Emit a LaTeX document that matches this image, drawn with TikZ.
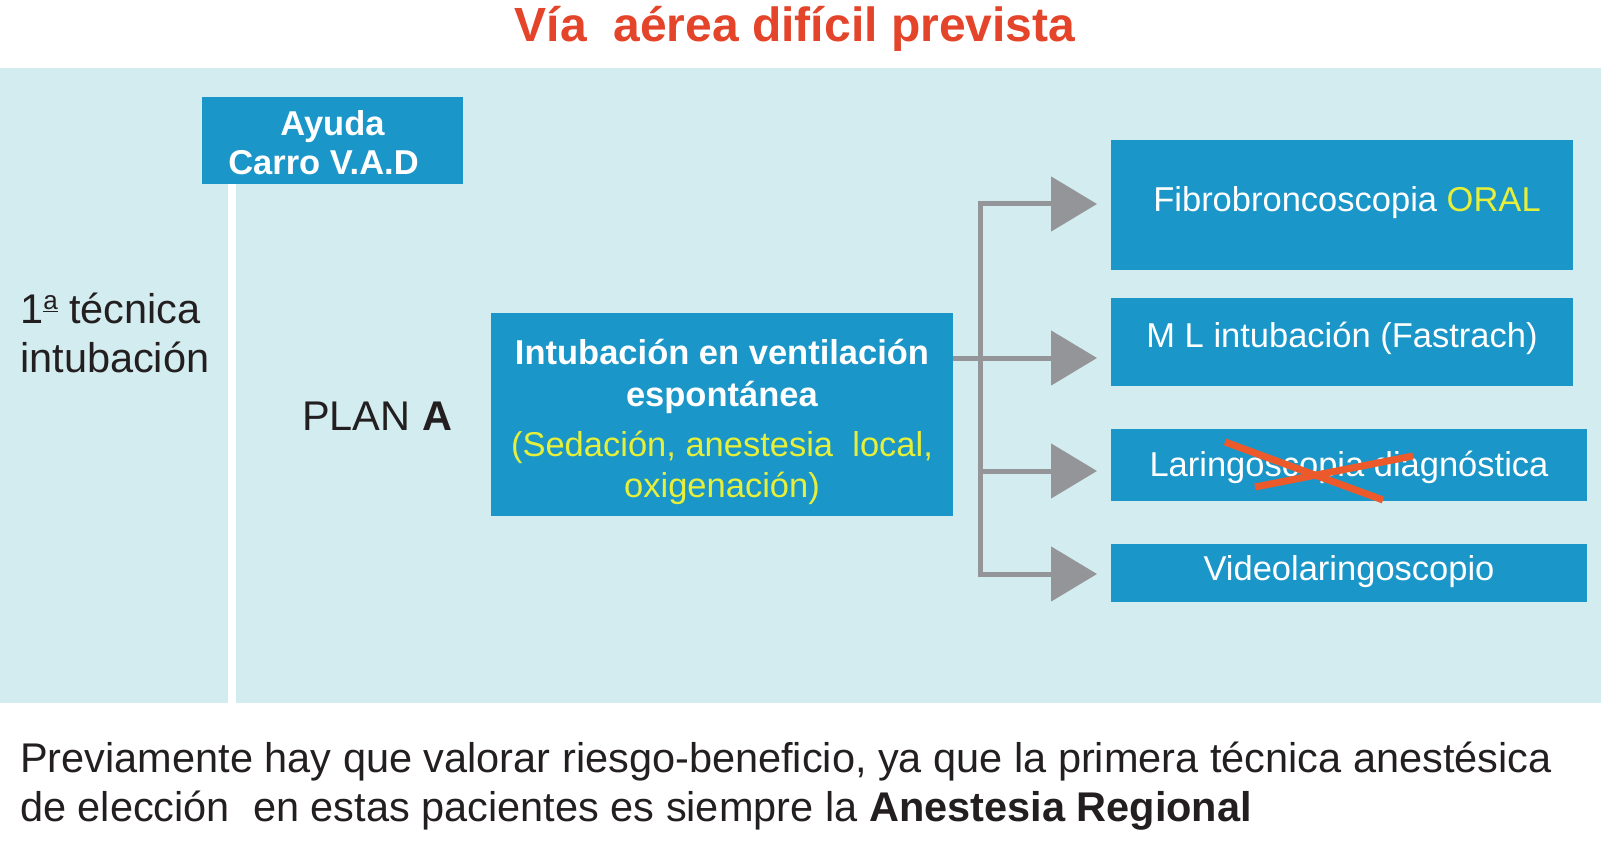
\documentclass[tikz,border=0pt]{standalone}
\usepackage{fontspec}
\setmainfont{Liberation Sans}
\usetikzlibrary{arrows.meta}
\definecolor{panel}{HTML}{D3ECEF}
\definecolor{boxblue}{HTML}{1A96C8}
\definecolor{arrgray}{HTML}{939598}
\definecolor{titlered}{HTML}{E4442A}
\definecolor{hiyellow}{HTML}{E6EF3A}
\definecolor{crossred}{HTML}{EC5A2C}
\definecolor{ink}{HTML}{231F20}
\newcommand\myfs[2]{\fontsize{#1}{#2}\selectfont}
\newcommand\myord{\raisebox{14pt}{\myfs{26}{26}\underline{a}}}
\tikzset{
  bluebox/.style={fill=boxblue, text=white, inner sep=0pt, align=center},
  plaintext/.style={inner sep=0pt, text=ink, font=\myfs{41.5}{49}},
  gline/.style={draw=arrgray, line width=5pt},
  conn/.style={gline, -{Triangle[length=46pt,width=54pt]}},
  crossline/.style={draw=crossred, line width=7pt}
}
\begin{document}
\begin{tikzpicture}[x=1pt,y=-1pt]
\useasboundingbox (0,0) rectangle (1601,842);
\fill[white] (0,0) rectangle (1601,842);
\fill[panel] (0,68) rectangle (1601,703);

% title
\node[font=\myfs{48}{50}\bfseries, text=titlered, anchor=base, inner sep=0pt] (title) at (795,42) {Vía\ \ aérea difícil prevista};

% help box and white rule
\node[bluebox, minimum width=261, minimum height=87, font=\myfs{34.5}{39}\bfseries] (ayuda) at (332.5,140.5)
  {\rule{0pt}{38pt}Ayuda\\Carro V.A.D\hspace*{18pt}\rule[-8pt]{0pt}{8pt}};
\coordinate (wl) at (232,703);
\draw[white, line width=8pt] (ayuda.south -| wl) -- (wl);

% left texts
\node[plaintext, anchor=north west, align=left] (tec) at (20,293) {\rule{0pt}{30pt}1\myord\ técnica\\intubación};
\node[plaintext, anchor=base west] (plan) at (302,430) {PLAN \textbf{A}};

% main box
\node[bluebox, minimum width=462, minimum height=203, font=\myfs{34.5}{40}] (main) at (722,414.5)
  {\rule{0pt}{43pt}\textbf{Intubación en ventilación}\\[2pt]\textbf{espontánea}\\[10pt]\textcolor{hiyellow}{(Sedación, anestesia\ \ local,}\\[1pt]\textcolor{hiyellow}{oxigenación)}\rule[-10pt]{0pt}{10pt}};

% right boxes
\node[bluebox, minimum width=462, minimum height=130, font=\myfs{34.5}{40}, text height=21pt, text depth=7pt] (r1) at (1342,205)
  {\hspace*{10pt}Fibrobroncoscopia \textcolor{hiyellow}{ORAL}};
\node[bluebox, minimum width=462, minimum height=88, font=\myfs{34.5}{40}, text height=19pt, text depth=7pt] (r2) at (1342,342)
  {M L intubación (Fastrach)};
\node[bluebox, minimum width=476, minimum height=72, font=\myfs{34.5}{40}, text height=29pt, text depth=7pt] (r3) at (1349,465)
  {Laringoscopia diagnóstica};
\node[bluebox, minimum width=476, minimum height=58, font=\myfs{34.5}{40}, text height=21pt, text depth=7pt] (r4) at (1349,573)
  {Videolaringoscopio};

% connectors
\foreach \i/\yy in {1/204,2/358,3/471,4/574} {
  \coordinate (j\i) at (980,\yy);
  \coordinate (tip\i) at (1097,\yy);
}
\draw[gline, line cap=rect] (j1) -- (j4);
\draw[conn] (j1) -- (tip1);
\draw[conn] (main.east |- tip2) -- (tip2);
\draw[conn] (j3) -- (tip3);
\draw[conn] (j4) -- (tip4);

% cross over third option
\draw[crossline] (1225,442) -- (1383,500);
\draw[crossline] (1255,487) -- (1413,456);

% bottom note
\node[plaintext, anchor=north west, align=left] (note) at (20,742)
  {\rule{0pt}{30pt}Previamente hay que valorar riesgo-beneficio, ya que la primera técnica anestésica\\de elección\ \ en estas pacientes es siempre la \textbf{Anestesia Regional}};
\end{tikzpicture}
\end{document}
